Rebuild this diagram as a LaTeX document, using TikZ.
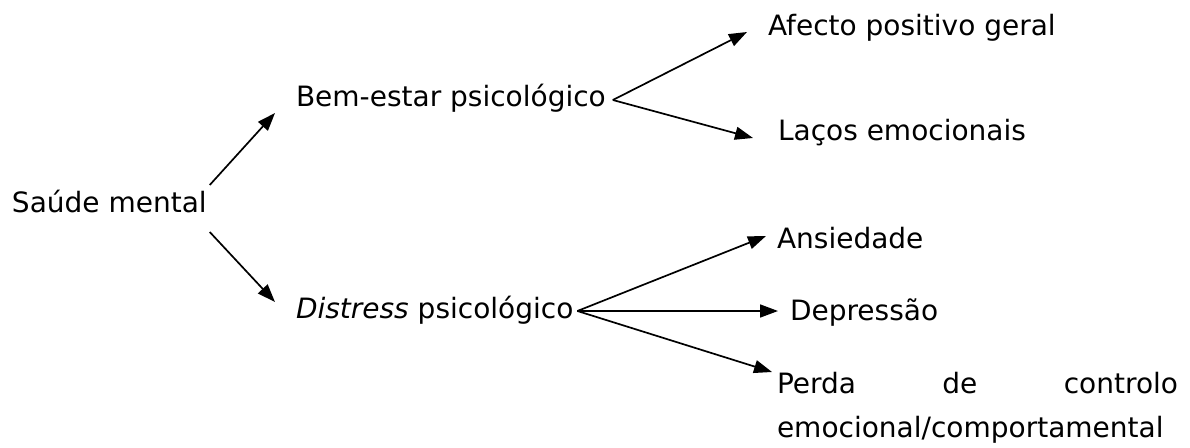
\documentclass[tikz,border=0pt]{standalone}
\usepackage{fontspec}
\setmainfont{DejaVu Sans}
\usetikzlibrary{arrows.meta}
\begin{document}
\begin{tikzpicture}[x=1pt,y=-1pt,
  lbl/.style={inner sep=0pt,outer sep=0pt,anchor=base west,font=\fontsize{28}{34}\selectfont},
  arr/.style={line width=1.7pt,-{Triangle[length=18pt,width=13pt]}}]
\useasboundingbox (0,0) rectangle (1190,447);
\node[lbl] (sm) at (12,212) {Saúde mental};
\node[lbl] (bem) at (296,106) {Bem-estar psicológico};
\node[lbl] (dis) at (296,318) {\textit{Distress} psicológico};
\node[lbl] (afe) at (768,35) {Afecto positivo geral};
\node[lbl] (lac) at (778,140) {Laços emocionais};
\node[lbl] (ans) at (777,248) {Ansiedade};
\node[lbl] (dep) at (790,320) {Depressão};
\node[lbl,text width=401pt,align=left] (per) at (777,393) {Perda\hfill de\hfill controlo\\[10pt]emocional/comportamental};
\draw[arr] ([shift={(3,-27)}]sm.base east) -- ([shift={(-21,7)}]bem.base west);
\draw[arr] ([shift={(3,20)}]sm.base east) -- ([shift={(-21,-16)}]dis.base west);
\draw[arr] ([shift={(7,-6)}]bem.base east) -- ([shift={(-21,-3)}]afe.base west);
\draw[arr] ([shift={(7,-6)}]bem.base east) -- ([shift={(-25,-2)}]lac.base west);
\draw[arr] ([shift={(4,-7)}]dis.base east) -- ([shift={(-11,-12)}]ans.base west);
\draw[arr] ([shift={(4,-7)}]dis.base east) -- ([shift={(-12,-9)}]dep.base west);
\draw[arr] ([shift={(4,-7)}]dis.base east) -- ([shift={(-5,-21)}]per.base west);
\end{tikzpicture}
\end{document}
